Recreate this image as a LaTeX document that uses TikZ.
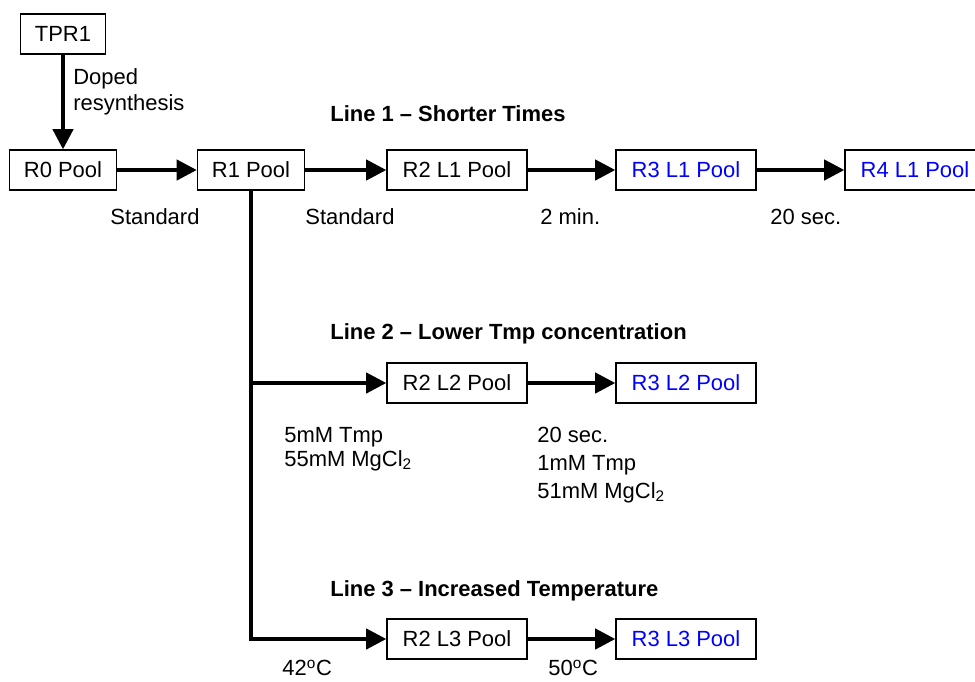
\documentclass[tikz,border=0pt]{standalone}
\usepackage{fontspec}
\setmainfont{Liberation Sans}
\usetikzlibrary{arrows.meta, positioning}
\tikzset{
  pool/.style={
    draw,
    rectangle,
    line width=0.8pt,
    minimum height=8mm,
    minimum width=28mm,
    inner sep=0pt,
    align=center
  },
  shortpool/.style={
    pool,
    minimum width=21.4mm
  },
  newpool/.style={
    pool,
    text=blue
  },
  arrow/.style={
    -{Triangle[length=11.5pt,width=11.5pt]},
    line width=2.2pt
  },
  cond/.style={
    anchor=west,
    align=left,
    inner sep=0pt
  },
  linetitle/.style={
    anchor=west,
    inner sep=0pt,
    font=\fontsize{12.5}{15}\selectfont\bfseries
  }
}

\begin{document}
\begin{tikzpicture}[x=0.02cm, y=-0.02cm, font=\fontsize{12.5}{15}\selectfont]
\useasboundingbox (0,0) rectangle (975,681);

% start and first rounds
\node[pool, minimum width=17mm] (tpr) at (63,34) {TPR1};
\node[shortpool] (r0) at (63,170) {R0 Pool};
\node[shortpool] (r1) at (251,170) {R1 Pool};
\draw[arrow] (tpr) -- (r0);
\draw[arrow] (r0) -- (r1);
\node[cond] (doped) at (73,92) {Doped\\resynthesis};
\node[cond] (std0) at (110,217) {Standard};

% Line 1
\node[linetitle] (title1) at (330,114) {Line 1 -- Shorter Times};
\node[pool] (r2l1) at (457,170) {R2 L1 Pool};
\node[newpool] (r3l1) at (686,170) {R3 L1 Pool};
\node[newpool] (r4l1) at (915,170) {R4 L1 Pool};
\draw[arrow] (r1) -- (r2l1);
\draw[arrow] (r2l1) -- (r3l1);
\draw[arrow] (r3l1) -- (r4l1);
\node[cond] (std1) at (305,217) {Standard};
\node[cond] (min2) at (540,217) {2 min.};
\node[cond] (sec20) at (770,217) {20 sec.};

% Line 2
\node[linetitle] (title2) at (330,334) {Line 2 -- Lower Tmp concentration};
\node[pool] (r2l2) at (457,383) {R2 L2 Pool};
\node[newpool] (r3l2) at (686,383) {R3 L2 Pool};
\coordinate (split2) at (r1.south |- r2l2.west);
\draw[arrow] (split2) -- (r2l2);
\draw[arrow] (r2l2) -- (r3l2);
\node[cond, font=\fontsize{12.5}{13.6}\selectfont] (tmp5) at (284,449)
  {5mM Tmp\\55mM MgCl\textsubscript{2}};
\node[cond, font=\fontsize{12.5}{16}\selectfont] (tmp1) at (537,465)
  {20 sec.\\1mM Tmp\\51mM MgCl\textsubscript{2}};

% Line 3
\node[linetitle] (title3) at (330,591) {Line 3 -- Increased Temperature};
\node[pool] (r2l3) at (457,639) {R2 L3 Pool};
\node[newpool] (r3l3) at (686,639) {R3 L3 Pool};
\draw[arrow] (r1.south) |- (r2l3.west);
\draw[arrow] (r2l3) -- (r3l3);
\node[cond] (deg42) at (282,668) {42\textsuperscript{o}C};
\node[cond] (deg50) at (548,668) {50\textsuperscript{o}C};

\end{tikzpicture}
\end{document}
